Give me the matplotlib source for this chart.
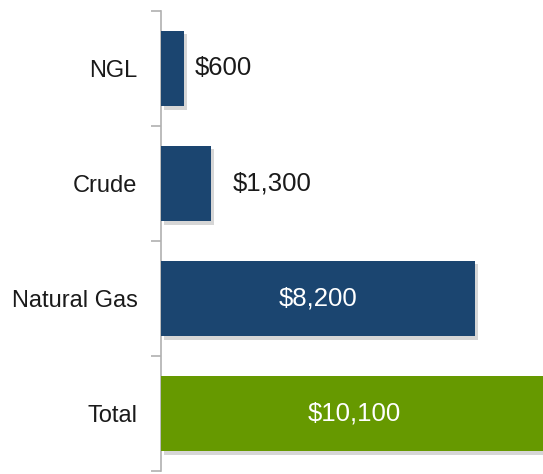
import matplotlib
matplotlib.use('Agg')
import matplotlib.pyplot as plt
import matplotlib.patheffects as pe

# Data
categories = ['NGL', 'Crude', 'Natural Gas', 'Total']
values = [600, 1300, 8200, 10100]
value_labels = ['$600', '$1,300', '$8,200', '$10,100']
bar_colors = ['#1b4570', '#1b4570', '#1b4570', '#669900']
label_inside = [False, False, True, True]

plt.rcParams['font.family'] = ['Liberation Sans', 'DejaVu Sans']

fig = plt.figure(figsize=(5.43, 4.74), dpi=100)
ax = fig.add_axes([161 / 543, 3 / 474, 382 / 543, 460 / 474])

y = list(range(len(categories)))
shadow = [pe.SimplePatchShadow(offset=(2.5, -2.5), shadow_rgbFace='#999999', alpha=0.4), pe.Normal()]
bars = ax.barh(y, values, height=0.66, color=bar_colors, zorder=3)
for b in bars:
    b.set_path_effects(shadow)

ax.set_xlim(0, 9975)
ax.set_ylim(len(categories) - 0.5, -0.5)

# value labels
pads = [11, 22, 0, 0]
for i, (v, lab, inside) in enumerate(zip(values, value_labels, label_inside)):
    if inside:
        ax.text(v / 2, i, lab, ha='center', va='center', color='white', fontsize=18.5, zorder=4)
    else:
        ax.annotate(lab, (v, i), xytext=(pads[i], 0), textcoords='offset pixels',
                    ha='left', va='center', color='#1a1a1a', fontsize=18.5, zorder=4)

# axis styling
for s in ['top', 'right', 'bottom']:
    ax.spines[s].set_visible(False)
ax.spines['left'].set_color('#b0b0b0')
ax.spines['left'].set_linewidth(1.2)
ax.set_xticks([])
ax.set_yticks(y)
ax.set_yticklabels(categories, fontsize=17, color='#1a1a1a')
ax.tick_params(axis='y', which='major', length=0, pad=17)
ax.set_yticks([i - 0.5 for i in range(len(categories) + 1)], minor=True)
ax.tick_params(axis='y', which='minor', length=7, width=1.2, color='#b0b0b0')

fig.savefig('out.png', dpi=100)
